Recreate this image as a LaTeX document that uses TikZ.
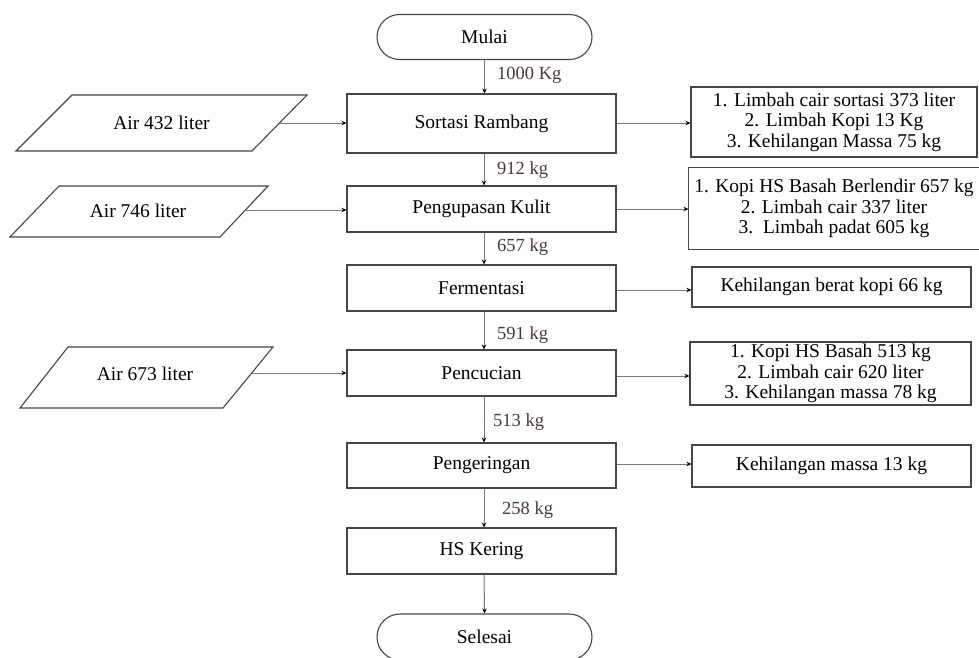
\documentclass[tikz,border=0pt]{standalone}
\usepackage{fontspec}
\setmainfont{Liberation Serif}
\usetikzlibrary{arrows.meta,shapes.misc}
\definecolor{linegray}{RGB}{120,120,120}
\definecolor{boxgray}{RGB}{70,70,70}
\definecolor{lblcol}{RGB}{75,55,65}
\tikzset{
  boxtext/.style={font=\fontsize{19.5}{20.5}\selectfont, text=black},
  procbox/.style={boxtext, draw=boxgray, line width=1.1pt, rectangle, minimum width=269pt, inner sep=0pt},
  outbox/.style={boxtext, draw=boxgray, line width=1.1pt, rectangle, align=center, inner sep=0pt},
  termbox/.style={boxtext, draw=boxgray, line width=1.1pt, rounded rectangle, minimum width=215pt, inner sep=0pt},
  paraline/.style={draw=boxgray, line width=1.1pt, line join=miter},
  conn/.style={draw=linegray, line width=1pt, -{Stealth[length=5pt,width=4.5pt,color=black]}},
  lbl/.style={font=\fontsize{18.5}{20}\selectfont, text=lblcol, anchor=west, inner sep=0pt}
}
\begin{document}
\begin{tikzpicture}[x=1pt,y=-1pt]
\useasboundingbox (0,0) rectangle (979,657);
% terminals
\node[termbox, minimum height=45pt] (mulai) at (484.5,37) {Mulai};
\node[termbox, minimum height=46pt] (selesai) at (484.5,637) {Selesai};
% process boxes
\node[procbox, minimum height=59pt] (sortasi) at (481.5,123.5) {Sortasi Rambang};
\node[procbox, minimum height=46pt] (kupas) at (481.5,209) {Pengupasan Kulit};
\node[procbox, minimum height=46pt] (ferm) at (481.5,288) {Fermentasi};
\node[procbox, minimum height=46pt] (cuci) at (481.5,373) {Pencucian};
\node[procbox, minimum height=45pt] (kering) at (481.5,465.5) {Pengeringan};
\node[procbox, minimum height=46pt] (hs) at (481.5,551) {HS Kering};
% output boxes
\node[outbox, minimum width=286pt, minimum height=70pt] (o1) at (834,122) {1. Limbah cair sortasi 373 liter\\2. Limbah Kopi 13 Kg\\3. Kehilangan Massa 75 kg};
\node[outbox, draw=none, minimum width=290pt, minimum height=81pt] (o2) at (834,208.5) {1. Kopi HS Basah Berlendir 657 kg\\2. Limbah cair 337 liter\\3.\ \ Limbah padat 605 kg};
\draw[draw=boxgray, line width=1.1pt] (o2.north west) rectangle ([xshift=12pt]o2.south east);
\node[outbox, minimum width=279pt, minimum height=40pt] (o3) at (831.5,287) {Kehilangan berat kopi 66 kg};
\node[outbox, minimum width=281pt, minimum height=63pt] (o4) at (830.5,373.5) {1. Kopi HS Basah 513 kg\\2. Limbah cair 620 liter\\3. Kehilangan massa 78 kg};
\node[outbox, minimum width=279pt, minimum height=42pt] (o5) at (831.5,466) {Kehilangan massa 13 kg};
% input parallelograms
\draw[paraline] (72,95) -- (307,95) -- (252,151) -- (16,151) -- cycle;
\node[boxtext] (a1) at (161.5,123) {Air 432 liter};
\coordinate (a1e) at (279.5,123);
\draw[paraline] (59,186) -- (268,186) -- (220,237) -- (10,237) -- cycle;
\node[boxtext] (a2) at (138,211) {Air 746 liter};
\coordinate (a2e) at (244,210);
\draw[paraline] (68,347) -- (273,347) -- (223,408) -- (20,408) -- cycle;
\node[boxtext] (a3) at (145,374) {Air 673 liter};
\coordinate (a3e) at (252,373);
% vertical connectors
\draw[conn] (mulai.south) -- (mulai.south |- sortasi.north);
\draw[conn] ([xshift=2.5pt]sortasi.south) -- ([xshift=2.5pt]kupas.north);
\draw[conn] ([xshift=2.5pt]kupas.south) -- ([xshift=2.5pt]ferm.north);
\draw[conn] ([xshift=2.5pt]ferm.south) -- ([xshift=2.5pt]cuci.north);
\draw[conn] ([xshift=2.5pt]cuci.south) -- ([xshift=2.5pt]kering.north);
\draw[conn] ([xshift=2.5pt]kering.south) -- ([xshift=2.5pt]hs.north);
\draw[conn] ([xshift=2.5pt]hs.south) -- (selesai.north);
% input connectors
\draw[conn] (a1e) -- (a1e -| sortasi.west);
\draw[conn] (a2e) -- (a2e -| kupas.west);
\draw[conn] (a3e) -- (a3e -| cuci.west);
% output connectors
\draw[conn] (sortasi.east |- 0,123) -- (o1.west |- 0,123);
\draw[conn] (kupas.east |- 0,209) -- (o2.west |- 0,209);
\draw[conn] (ferm.east |- 0,290) -- (o3.west |- 0,290);
\draw[conn] (cuci.east |- 0,376) -- (o4.west |- 0,376);
\draw[conn] (kering.east |- 0,464) -- (o5.west |- 0,464);
% flow labels
\node[lbl] (l1) at (497,75) {1000 Kg};
\node[lbl] (l2) at (497,170) {912 kg};
\node[lbl] (l3) at (497,247) {657 kg};
\node[lbl] (l4) at (497,335) {591 kg};
\node[lbl] (l5) at (493,422) {513 kg};
\node[lbl] (l6) at (502,510) {258 kg};
\end{tikzpicture}
\end{document}
